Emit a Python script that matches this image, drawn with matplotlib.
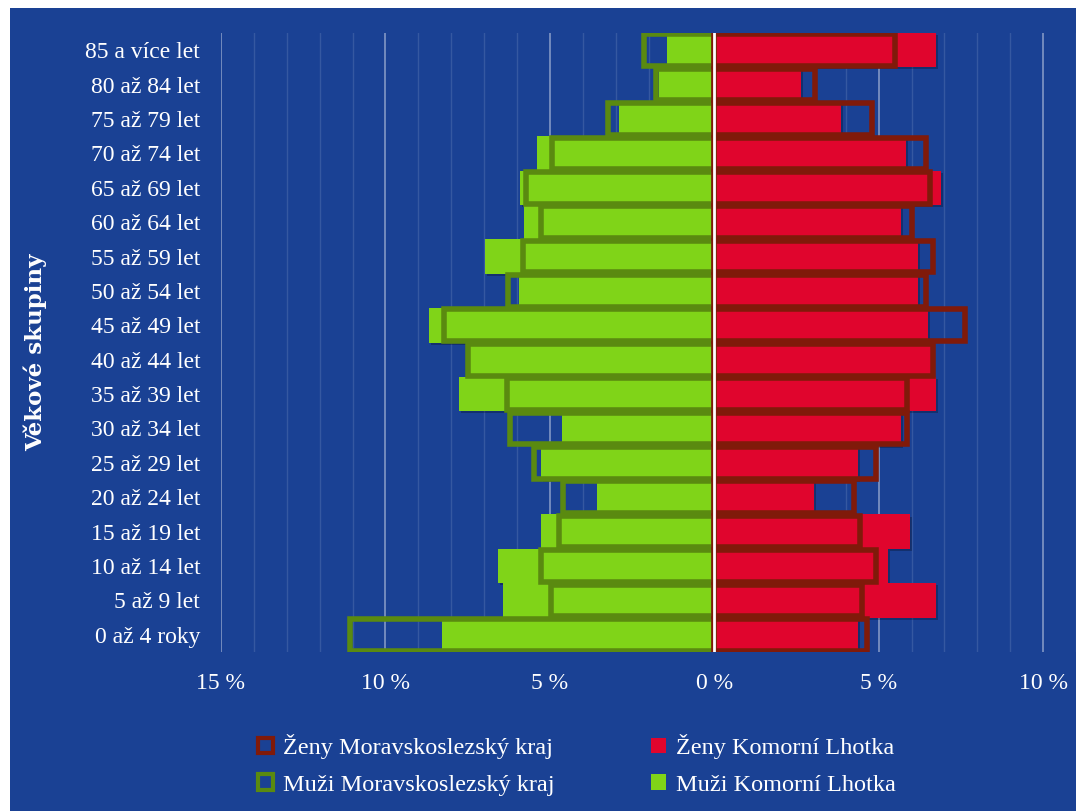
import matplotlib
matplotlib.use("Agg")
import matplotlib.pyplot as plt
import matplotlib.patches as mpatches
import matplotlib.patheffects as pe
import matplotlib.ticker as mticker
import numpy as np

skupiny = ["85 a více let", "80 až 84 let", "75 až 79 let", "70 až 74 let",
           "65 až 69 let", "60 až 64 let", "55 až 59 let", "50 až 54 let",
           "45 až 49 let", "40 až 44 let", "35 až 39 let", "30 až 34 let",
           "25 až 29 let", "20 až 24 let", "15 až 19 let", "10 až 14 let",
           "5 až 9 let", "0 až 4 roky"]

# procenta, Komorní Lhotka
muzi_lhotka = [1.43, 1.67, 2.89, 5.38, 5.90, 5.78, 6.96, 5.93, 8.69, 7.45,
               7.75, 4.62, 5.26, 3.56, 5.26, 6.57, 6.41, 8.27]
zeny_lhotka = [6.75, 2.64, 3.86, 5.84, 6.90, 5.68, 6.20, 6.20, 6.50, 6.60,
               6.75, 5.68, 4.38, 3.04, 5.96, 5.29, 6.75, 4.38]
# procenta, Moravskoslezský kraj
muzi_kraj = [2.15, 1.78, 3.24, 4.92, 5.74, 5.28, 5.83, 6.28, 8.23, 7.50,
             6.31, 6.22, 5.49, 4.61, 4.73, 5.28, 4.98, 11.08]
zeny_kraj = [5.49, 3.06, 4.79, 6.43, 6.56, 6.01, 6.65, 6.43, 7.62, 6.65,
             5.86, 5.86, 4.91, 4.25, 4.43, 4.91, 4.49, 4.64]

tick_pos = [-15, -10, -5, 0, 5, 10]

modra = "#1a4194"
zelena = "#80d418"
zelena_tm = "#5a8a10"
cervena = "#e0052d"
cervena_tm = "#801a0a"

plt.rcParams["font.family"] = ["Liberation Serif", "DejaVu Serif"]

fig = plt.figure(figsize=(10.76, 8.11), dpi=100, facecolor=modra)
# bílý okraj nahoře a vlevo
fig.patches.append(mpatches.Rectangle((0, 1 - 8 / 811), 1, 8 / 811,
                                      transform=fig.transFigure,
                                      facecolor="white", zorder=-10))
fig.patches.append(mpatches.Rectangle((0, 0), 10 / 1076, 1,
                                      transform=fig.transFigure,
                                      facecolor="white", zorder=-10))

ax = fig.add_axes([221 / 1076, 1 - 652 / 811, 1 - 221 / 1076, (652 - 33) / 811])
ax.set_facecolor("none")

y = np.arange(len(skupiny))
stin = [pe.SimplePatchShadow(offset=(1.5, -1.5), shadow_rgbFace="black", alpha=0.25), pe.Normal()]

b1 = ax.barh(y, [-v for v in muzi_lhotka], height=1.0, color=zelena, zorder=2)
b2 = ax.barh(y, zeny_lhotka, height=1.0, color=cervena, zorder=2)
for p in list(b1) + list(b2):
    p.set_path_effects(stin)
ax.barh(y, [-v for v in muzi_kraj], height=0.92, facecolor="none",
        edgecolor=zelena_tm, linewidth=4, zorder=3)
ax.barh(y, zeny_kraj, height=0.92, facecolor="none",
        edgecolor=cervena_tm, linewidth=4, zorder=3)

ax.axvline(0, color="white", linewidth=2, zorder=4)

ax.set_xlim(-15, 11)
ax.set_ylim(len(skupiny) - 0.5, -0.5)

ax.xaxis.set_major_locator(mticker.FixedLocator(tick_pos))
ax.xaxis.set_major_formatter(mticker.FuncFormatter(lambda v, p: f"{abs(v):.0f} %"))
ax.xaxis.set_minor_locator(mticker.MultipleLocator(1))
ax.grid(axis="x", which="major", color="white", alpha=0.45, linewidth=1.2, zorder=1)
ax.grid(axis="x", which="minor", color="white", alpha=0.12, linewidth=1, zorder=1)
ax.set_axisbelow(True)

ax.set_yticks(y)
ax.set_yticklabels(skupiny)
ax.tick_params(axis="y", length=0, pad=15, labelsize=17, labelcolor="white")
ax.tick_params(axis="x", which="both", length=0, pad=15, labelsize=17, labelcolor="white")

for s in ax.spines.values():
    s.set_visible(False)

fig.text(35 / 1076, 1 - 352 / 811, "Věkové skupiny", rotation=90, color="white",
         fontsize=16.5, fontweight="bold", family=["DejaVu Serif"],
         ha="center", va="center")

handles = [
    mpatches.Patch(facecolor=modra, edgecolor=cervena_tm, linewidth=3,
                   label="Ženy Moravskoslezský kraj"),
    mpatches.Patch(facecolor=modra, edgecolor=zelena_tm, linewidth=3,
                   label="Muži Moravskoslezský kraj"),
    mpatches.Patch(facecolor=cervena, label="Ženy Komorní Lhotka"),
    mpatches.Patch(facecolor=zelena, label="Muži Komorní Lhotka"),
]
leg = fig.legend(handles=handles, ncol=2, loc="center",
                 bbox_to_anchor=(577 / 1076, 1 - 765 / 811), frameon=False,
                 fontsize=17.5, labelcolor="white", handlelength=0.6,
                 handleheight=0.6, handletextpad=0.4, columnspacing=4.0,
                 labelspacing=0.62)

fig.savefig("out.png", dpi=100, facecolor=fig.get_facecolor())
